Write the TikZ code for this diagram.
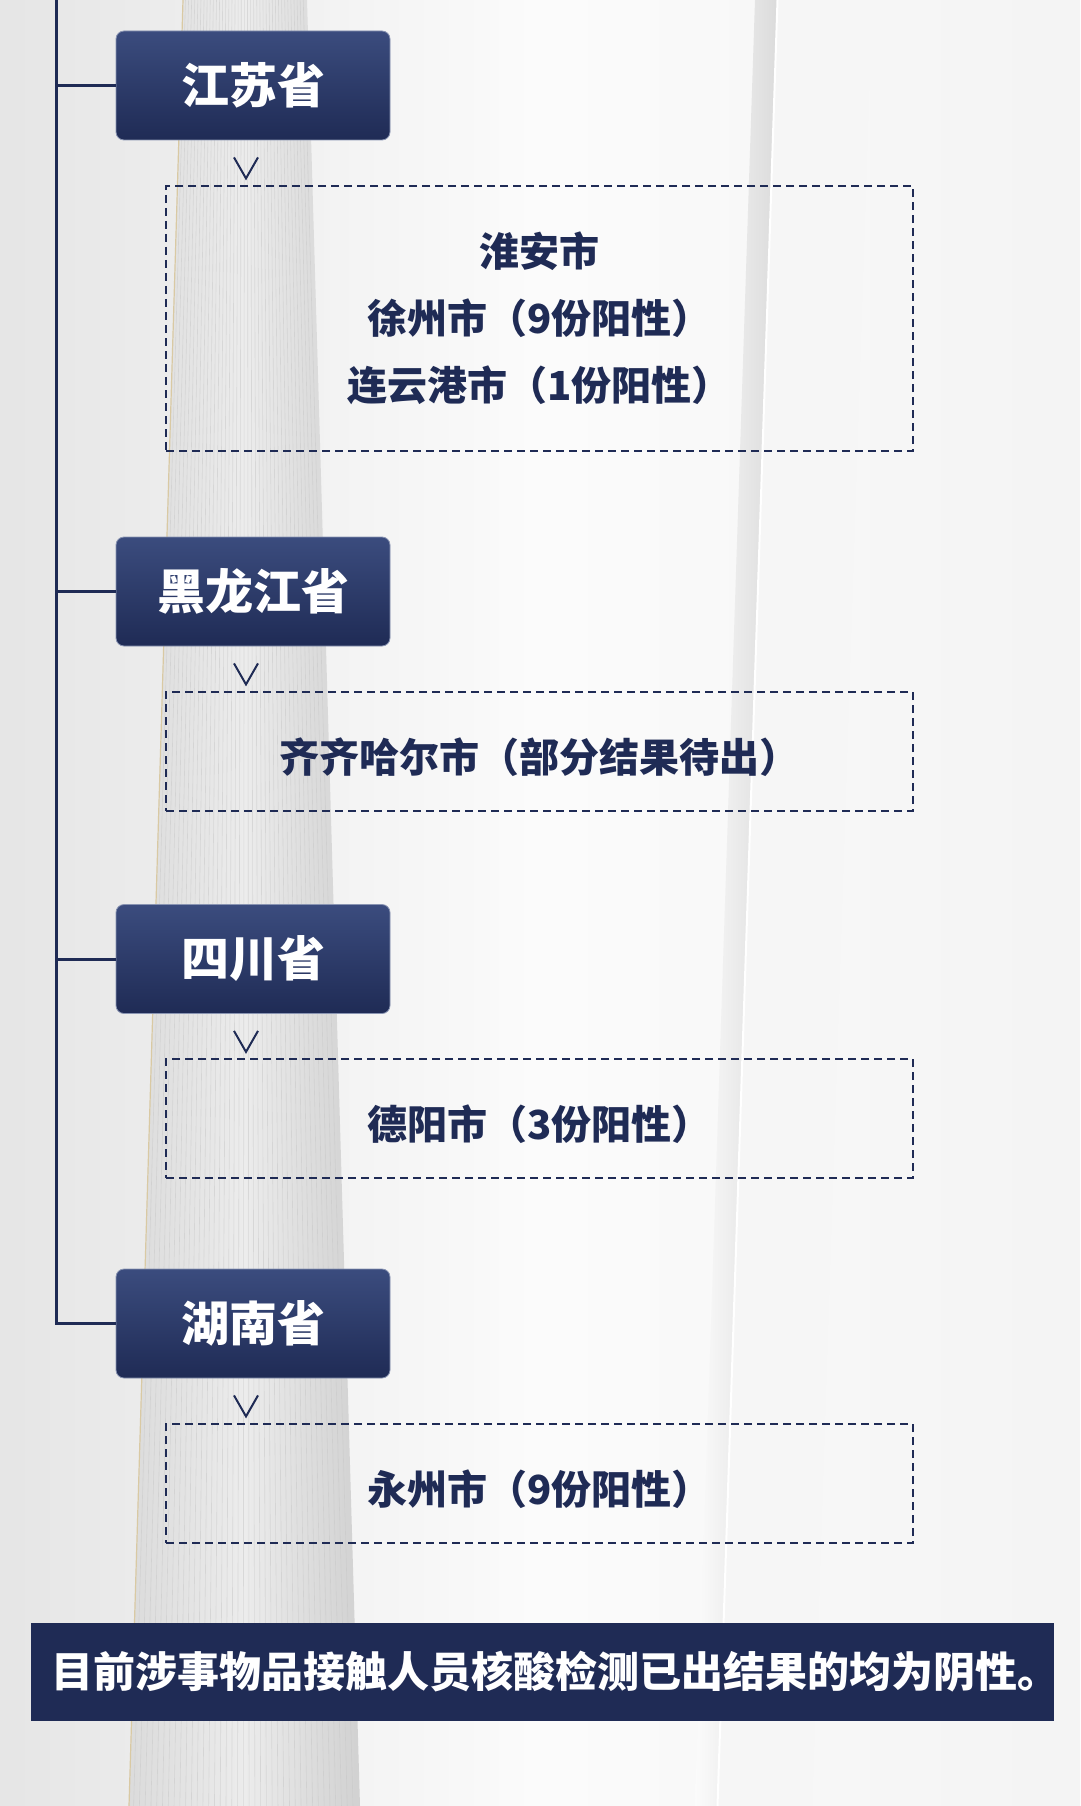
\documentclass[tikz,border=0pt]{standalone}
\usepackage{fontspec}
\setmainfont{Noto Sans CJK SC}
\usetikzlibrary{calc}
\definecolor{DEtamna}{HTML}{1F2B55}
\definecolor{DEsvijetla}{HTML}{3B4C7E}
\definecolor{DEzlatna}{HTML}{D9C9A3}

\begin{document}
\begin{tikzpicture}[x=1pt,y=-1pt,
 DEpokrajina/.style={rounded corners=8pt,top color=DEsvijetla,bottom color=DEtamna,draw=DEsvijetla!60!white,line width=.8pt,minimum width=274pt,minimum height=109pt,text=white,font=\fontsize{48}{50}\selectfont\bfseries},
 DEgradovi/.style={draw=DEtamna,dash pattern=on 8pt off 5pt,line width=1.6pt,minimum width=747pt,text=DEtamna,align=center,font=\fontsize{40}{67}\selectfont\bfseries},
 DEjedan/.style={DEgradovi,minimum height=119pt,text height=45pt,text depth=3pt},
 DEveza/.style={DEtamna,line width=3pt},
 DEstrelica/.style={DEtamna,line width=2pt}]
\useasboundingbox (0,0) rectangle (1080,1806);
\shade[left color=gray!20,right color=gray!9,middle color=white!97!gray] (0,0) rectangle (1080,1806);
\coordinate (stupGL) at (183,0); \coordinate (stupGD) at (307,0);
\coordinate (stupDL) at (129,1806); \coordinate (stupDD) at (360,1806);
\shade[left color=gray!28,right color=gray!36,middle color=gray!15] (stupGL)--(stupGD)--(stupDD)--(stupDL)--cycle;
\foreach \t in {0.02,0.045,...,0.99}{\draw[gray!45,opacity=.5,line width=.6pt] ($(stupGL)!\t!(stupGD)$)--($(stupDL)!\t!(stupDD)$);}
\draw[DEzlatna,line width=1.2pt] (stupGL)--(stupDL);
\shade[left color=white!97!gray,right color=gray!28] (755,0)--(777,0)--(717,1806)--(695,1806)--cycle;
\fill[gray!7] (778,0)--(872,0)--(812,1806)--(718,1806)--cycle;
\draw[white,line width=2pt] (777.5,0)--(717.5,1806);
\node[DEpokrajina] (jiangsu) at (253,85.5) {江苏省};
\node[DEgradovi,minimum height=265pt] (huaian) at (539.5,318.5) {淮安市\\徐州市（9份阳性）\\连云港市（1份阳性）};
\node[DEpokrajina] (heilongjiang) at (253,591.5) {黑龙江省};
\node[DEjedan] (qiqihaer) at (539.5,751.5) {齐齐哈尔市（部分结果待出）};
\node[DEpokrajina] (sichuan) at (253,959) {四川省};
\node[DEjedan] (deyang) at (539.5,1118.5) {德阳市（3份阳性）};
\node[DEpokrajina] (hunan) at (253,1323.5) {湖南省};
\node[DEjedan] (yongzhou) at (539.5,1483.5) {永州市（9份阳性）};
\coordinate (vrh) at (56,0);
\draw[DEveza] (vrh) |- (hunan.west);
\foreach \n in {jiangsu,heilongjiang,sichuan}{\draw[DEveza] (\n.west) -- (\n.west -| vrh);}
\foreach \n in {jiangsu,heilongjiang,sichuan,hunan}{\draw[DEstrelica] ([shift={(-19pt,-17pt)}]\n.south) -- ++(12pt,-21pt) -- ++(12pt,21pt);}
\node[fill=DEtamna,minimum width=1023pt,minimum height=98pt] (napomena) at (542.5,1672) {};
\node[inner sep=0pt,text=white,font=\fontsize{42}{50}\selectfont\bfseries] (napomenaTekst) at ([xshift=13pt]napomena.center) {目前涉事物品接触人员核酸检测已出结果的均为阴性。};
\end{tikzpicture}
\end{document}
